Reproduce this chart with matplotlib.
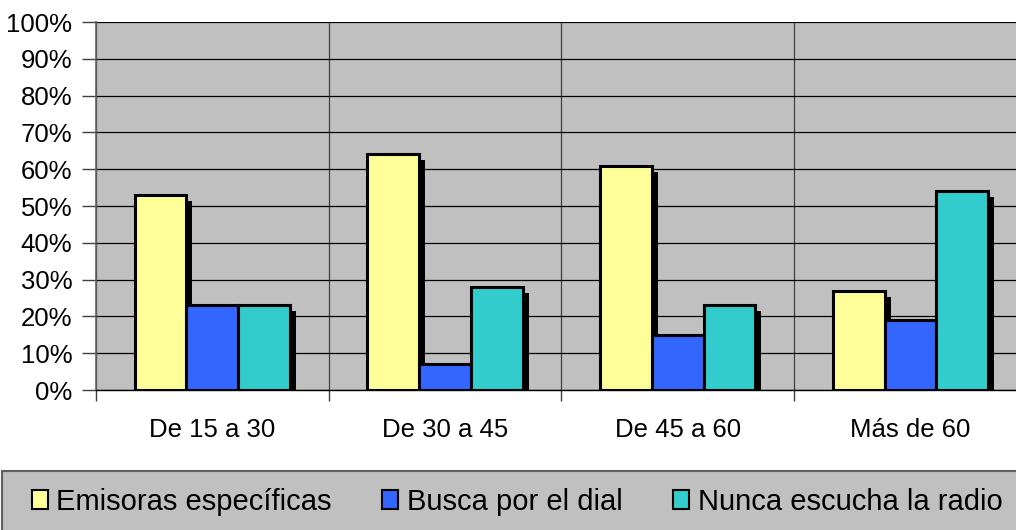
import matplotlib
matplotlib.use("Agg")
import matplotlib.pyplot as plt
from matplotlib.patches import Rectangle
import numpy as np

plt.rcParams['font.family'] = ['Liberation Sans', 'DejaVu Sans']

categories = ["De 15 a 30", "De 30 a 45", "De 45 a 60", "Más de 60"]
series_names = ["Emisoras específicas", "Busca por el dial", "Nunca escucha la radio"]
emisoras = [53, 64, 61, 27]
busca = [23, 7, 15, 19]
nunca = [23, 28, 23, 54]
colors = ["#FFFF99", "#3366FF", "#33CCCC"]
y_ticks = [0, 10, 20, 30, 40, 50, 60, 70, 80, 90, 100]
y_labels = ["0%", "10%", "20%", "30%", "40%", "50%", "60%", "70%", "80%", "90%", "100%"]

W, H = 1016, 530
fig = plt.figure(figsize=(W / 100, H / 100), dpi=100)
ax = fig.add_axes([96 / W, (H - 390) / H, 930.7 / W, 368 / H])
ax.set_facecolor("#C0C0C0")

n_cat = len(categories)
bw = 0.2222
x = np.arange(n_cat) + 0.5
data = [emisoras, busca, nunca]

# shadow offsets in data units
dx = 6 / 232.7
dy = 6 / 3.68
for j, (vals, col) in enumerate(zip(data, colors)):
    pos = x + (j - 1) * bw
    ax.bar(pos + dx, np.array(vals) - dy, width=bw, bottom=0, color="black",
           edgecolor="none", zorder=2, align="center")
for j, (vals, col, name) in enumerate(zip(data, colors, series_names)):
    pos = x + (j - 1) * bw
    ax.bar(pos, vals, width=bw, color=col, edgecolor="black", linewidth=2.2,
           zorder=3, label=name, align="center")

ax.set_xlim(0, n_cat)
ax.set_ylim(0, 100)
ax.set_yticks(y_ticks)
ax.set_yticklabels(y_labels, fontsize=18.5)
ax.set_xticks(np.arange(n_cat + 1))
ax.set_xticklabels([])
ax.set_xticks(x, minor=True)
ax.set_xticklabels(categories, minor=True, fontsize=18.5)
ax.tick_params(axis="x", which="minor", length=0, pad=20)
ax.tick_params(axis="x", which="major", length=8, width=1, color="#404040", direction="out")
ax.tick_params(axis="y", length=10, width=1, color="#404040", direction="out", pad=7)
ax.grid(axis="y", color="black", linewidth=0.9, zorder=1)
ax.grid(axis="x", which="major", color="#404040", linewidth=0.9, zorder=1)
ax.set_axisbelow(True)
for s in ["top", "right"]:
    ax.spines[s].set_visible(False)
ax.spines["left"].set_color("#606060")
ax.spines["left"].set_linewidth(1.2)
ax.spines["bottom"].set_color("black")
ax.spines["bottom"].set_linewidth(1.0)

# legend frame
fig.patches.append(Rectangle((1.5 / W, -0.05), 1.1, (H - 471) / H + 0.05,
                             transform=fig.transFigure, facecolor="#C0C0C0",
                             edgecolor="#606060", linewidth=1.5, zorder=0))
handles, labels = ax.get_legend_handles_labels()
leg = fig.legend(handles, labels, ncol=3, loc="center left",
                 bbox_to_anchor=(20 / W, (H - 502) / H), frameon=False,
                 fontsize=21, handlelength=0.55, handleheight=0.6,
                 handletextpad=0.3, columnspacing=1.72, borderaxespad=0)
for h in leg.legend_handles:
    h.set_linewidth(1.5)

fig.savefig("out.png", dpi=100)
